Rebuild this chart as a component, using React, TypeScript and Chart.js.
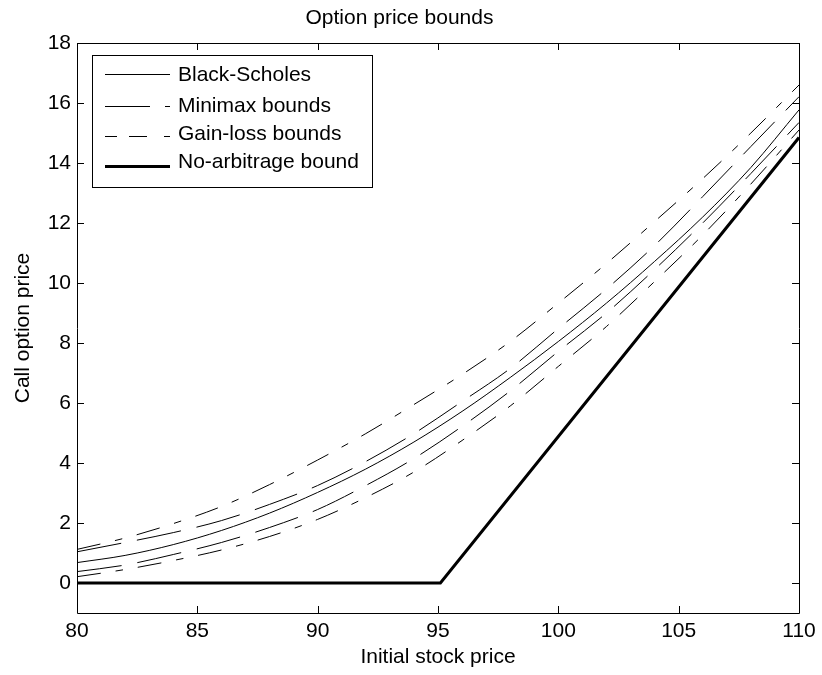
import React, { useEffect, useRef } from "react";
import { Chart, registerables } from "chart.js";

Chart.register(...registerables);

// ---- data ----
const stockPrices = [80, 82, 84, 86, 88, 90, 92, 94, 96, 98, 100, 102, 104, 106, 108, 110];
const blackScholes = [0.68, 0.92, 1.28, 1.75, 2.33, 3.02, 3.8, 4.7, 5.72, 6.85, 8.05, 9.33, 10.72, 12.2, 13.85, 15.77];
const minimaxUpper = [1.04, 1.35, 1.68, 2.08, 2.62, 3.25, 4.05, 4.98, 6.05, 7.15, 8.48, 9.8, 11.25, 12.88, 14.55, 16.21];
const minimaxLower = [0.38, 0.6, 0.95, 1.35, 1.85, 2.45, 3.25, 4.15, 5.22, 6.4, 7.72, 9.0, 10.45, 12.0, 13.65, 15.35];
const gainLossUpper = [1.12, 1.5, 1.98, 2.55, 3.28, 4.1, 4.98, 5.95, 6.95, 8.05, 9.33, 10.65, 12.05, 13.48, 15.0, 16.6];
const gainLossLower = [0.21, 0.45, 0.75, 1.1, 1.55, 2.12, 2.85, 3.7, 4.75, 5.9, 7.22, 8.55, 10.05, 11.6, 13.3, 15.1];
const noArbPrices = [80, 95.1, 110];
const noArbBound = [0, 0, 14.85];

const xTicks = [80, 85, 90, 95, 100, 105, 110];
const yTicks = [0, 2, 4, 6, 8, 10, 12, 14, 16, 18];

const legendLabels = ["Black-Scholes", "Minimax bounds", "Gain-loss bounds", "No-arbitrage bound"];

// ---- styles ----
const FONT = "'Liberation Sans', Arial, Helvetica, sans-serif";
const FS = 21;
const mmDash = [45, 16];
const glDash = [24, 15, 7.5, 15];
const legendDashes = [[], [45, 15], [12, 12, 18, 17, 7, 40], []];
const legendWidths = [1, 1, 1, 3];

const pts = (xs: number[], ys: number[]) => xs.map((x, i) => ({ x, y: ys[i] }));

const axesBoxPlugin = {
  id: "axesBox",
  afterDatasetsDraw(chart: any) {
    const { ctx, chartArea, scales } = chart;
    const { left, right, top, bottom } = chartArea;
    const tl = 7;
    ctx.save();
    ctx.strokeStyle = "#000";
    ctx.lineWidth = 1;
    ctx.beginPath();
    ctx.rect(left + 0.5, top + 0.5, right - left, bottom - top);
    xTicks.forEach((v) => {
      const px = Math.round(scales.x.getPixelForValue(v)) + 0.5;
      ctx.moveTo(px, bottom);
      ctx.lineTo(px, bottom - tl);
      ctx.moveTo(px, top);
      ctx.lineTo(px, top + tl);
    });
    yTicks.forEach((v) => {
      const py = Math.round(scales.y.getPixelForValue(v)) + 0.5;
      ctx.moveTo(left, py);
      ctx.lineTo(left + tl, py);
      ctx.moveTo(right, py);
      ctx.lineTo(right - tl, py);
    });
    ctx.stroke();
    ctx.restore();
  },
};

const innerLegendPlugin = {
  id: "innerLegend",
  afterDraw(chart: any) {
    const { ctx, chartArea } = chart;
    const bx = chartArea.left + 15;
    const by = chartArea.top + 12;
    const bw = 280;
    const bh = 132;
    ctx.save();
    ctx.fillStyle = "#fff";
    ctx.fillRect(bx, by, bw, bh);
    ctx.strokeStyle = "#000";
    ctx.lineWidth = 1;
    ctx.strokeRect(bx + 0.5, by + 0.5, bw, bh);
    const textOff = [20, 50.8, 79, 107.5];
    const lineOff = [18.5, 51, 81, 111];
    legendLabels.forEach((label, i) => {
      const ly = Math.round(by + lineOff[i]) + (legendWidths[i] % 2 ? 0.5 : 0);
      ctx.beginPath();
      ctx.setLineDash(legendDashes[i]);
      ctx.lineWidth = legendWidths[i];
      ctx.moveTo(bx + 13, ly);
      ctx.lineTo(bx + 78, ly);
      ctx.stroke();
      ctx.setLineDash([]);
      ctx.fillStyle = "#000";
      ctx.font = `${FS}px ${FONT}`;
      ctx.textAlign = "left";
      ctx.textBaseline = "middle";
      ctx.fillText(label, bx + 86, by + textOff[i]);
    });
    ctx.restore();
  },
};

export default function App() {
  const ref = useRef<HTMLCanvasElement | null>(null);

  useEffect(() => {
    if (!ref.current) return;
    const thin = {
      borderColor: "#000",
      borderWidth: 1,
      pointRadius: 0,
      fill: false,
      cubicInterpolationMode: "monotone" as const,
    };
    const chart = new Chart(ref.current, {
      type: "line",
      data: {
        datasets: [
          { ...thin, label: "Black-Scholes", data: pts(stockPrices, blackScholes) },
          { ...thin, label: "Minimax upper", data: pts(stockPrices, minimaxUpper), borderDash: mmDash },
          { ...thin, label: "Minimax lower", data: pts(stockPrices, minimaxLower), borderDash: mmDash },
          { ...thin, label: "Gain-loss upper", data: pts(stockPrices, gainLossUpper), borderDash: glDash },
          { ...thin, label: "Gain-loss lower", data: pts(stockPrices, gainLossLower), borderDash: glDash },
          {
            label: "No-arbitrage bound",
            data: pts(noArbPrices, noArbBound),
            borderColor: "#000",
            borderWidth: 3,
            pointRadius: 0,
            fill: false,
            tension: 0,
          },
        ],
      },
      options: {
        animation: false,
        responsive: false,
        devicePixelRatio: 1,
        layout: { padding: { left: 0, right: 23, top: 0, bottom: 0 } },
        plugins: {
          legend: { display: false },
          tooltip: { enabled: false },
          title: {
            display: true,
            text: "Option price bounds",
            color: "#000",
            font: { family: FONT, size: FS, weight: "normal", lineHeight: 1.2 },
            padding: { top: 5.4, bottom: 12.4 },
          },
        },
        scales: {
          x: {
            type: "linear",
            min: 80,
            max: 110,
            grid: { display: false, drawTicks: false },
            border: { display: false },
            afterBuildTicks: (s: any) => {
              s.ticks = xTicks.map((v) => ({ value: v }));
            },
            afterFit: (s: any) => {
              s.height = 62;
            },
            ticks: {
              color: "#000",
              padding: 6,
              maxRotation: 0,
              autoSkip: false,
              font: { family: FONT, size: FS },
              callback: (v: any) => String(v),
            },
            title: {
              display: true,
              text: "Initial stock price",
              color: "#000",
              font: { family: FONT, size: FS, lineHeight: 1.2 },
              padding: { top: 0, bottom: 5.4 },
            },
          },
          y: {
            type: "linear",
            min: -1,
            max: 18,
            grid: { display: false, drawTicks: false },
            border: { display: false },
            afterBuildTicks: (s: any) => {
              s.ticks = yTicks.map((v) => ({ value: v }));
            },
            afterFit: (s: any) => {
              s.width = 77;
            },
            ticks: {
              color: "#000",
              padding: 6,
              autoSkip: false,
              font: { family: FONT, size: FS },
              callback: (v: any) => String(v),
            },
            title: {
              display: true,
              text: "Call option price",
              color: "#000",
              font: { family: FONT, size: FS, lineHeight: 1.2 },
              padding: { top: 10.4, bottom: 0 },
            },
          },
        },
      },
      plugins: [axesBoxPlugin, innerLegendPlugin],
    });
    return () => chart.destroy();
  }, []);

  return (
    <div style={{ position: "fixed", left: 0, top: 0, width: 822, height: 675, background: "#fff" }}>
      <canvas ref={ref} width={822} height={675} style={{ display: "block" }} />
    </div>
  );
}
